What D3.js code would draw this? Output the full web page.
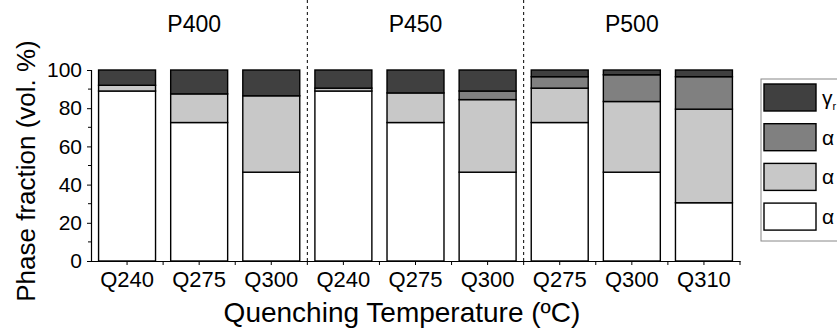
<!DOCTYPE html>
<html>
<head>
<meta charset="utf-8">
<script src="https://cdn.jsdelivr.net/npm/d3@7"></script>
<style>
  html, body { margin: 0; padding: 0; background: #fff; }
  svg { display: block; font-family: "Liberation Sans", Arial, sans-serif; }
</style>
</head>
<body>
<svg id="chart" width="837" height="336"></svg>
<script>
// Quenching temperatures, grouped by partitioning condition
const groups = ["P400", "P450", "P500"];
const categories = ["Q240", "Q275", "Q300", "Q240", "Q275", "Q300", "Q275", "Q300", "Q310"];

// Phase fractions (vol. %), bottom to top
const alphaWhite  = [89, 72.5, 46.5, 89, 72.5, 46.5, 72.5, 46.5, 30.5];
const alphaLight  = [3, 15, 40, 1.5, 15.5, 38, 18, 37, 49];
const alphaMedium = [0, 0, 0, 0, 0, 4.5, 6, 14, 17];
const gammaR      = [8, 12.5, 13.5, 9.5, 12, 11, 3.5, 2.5, 3.5];

const yTicks = [0, 20, 40, 60, 80, 100];
const yMinorTicks = [10, 30, 50, 70, 90];

const seriesKeys = ["aw", "al", "am", "gr"];
const colors = { aw: "#ffffff", al: "#c8c8c8", am: "#808080", gr: "#404040" };
const legendItems = [
  { key: "gr", label: "γ", sub: "r" },
  { key: "am", label: "α", sub: "" },
  { key: "al", label: "α", sub: "" },
  { key: "aw", label: "α", sub: "" }
];

const rows = categories.map((c, i) => ({
  idx: i, cat: c,
  aw: alphaWhite[i], al: alphaLight[i], am: alphaMedium[i], gr: gammaR[i]
}));

const svg = d3.select("#chart");
const margin = { left: 91, right: 97, top: 70, bottom: 75 };
const W = 837, H = 336;

const x = d3.scaleBand()
  .domain(rows.map(d => d.idx))
  .range([margin.left, W - margin.right])
  .paddingInner(0.21).paddingOuter(0.105);
const xOuter = d3.scaleBand()
  .domain(rows.map(d => d.idx))
  .range([margin.left, W - margin.right]);
const y = d3.scaleLinear().domain([0, 100]).range([H - margin.bottom, margin.top]);

// group separators
const groupBounds = [3, 6];
svg.selectAll("line.sep").data(groupBounds).join("line")
  .attr("class", "sep")
  .attr("x1", d => xOuter(d)).attr("x2", d => xOuter(d))
  .attr("y1", 0).attr("y2", y(0))
  .attr("stroke", "#000").attr("stroke-width", 1)
  .attr("stroke-dasharray", "3,3");

// group titles
svg.selectAll("text.grp").data(groups).join("text")
  .attr("class", "grp")
  .attr("x", (d, g) => (xOuter(g * 3) + xOuter(g * 3 + 2) + xOuter.bandwidth()) / 2 - (g === 0 ? 5 : 0))
  .attr("y", 32)
  .attr("text-anchor", "middle")
  .attr("font-size", 23)
  .text(d => d);

// stacked bars
const stack = d3.stack().keys(seriesKeys);
const layers = stack(rows);
svg.append("g").selectAll("g").data(layers).join("g")
  .attr("fill", d => colors[d.key])
  .selectAll("rect").data(d => d.filter(p => p[1] - p[0] > 0)).join("rect")
  .attr("x", d => x(d.data.idx))
  .attr("width", x.bandwidth())
  .attr("y", d => y(d[1]))
  .attr("height", d => y(d[0]) - y(d[1]))
  .attr("stroke", "#000")
  .attr("stroke-width", 1.4);

// y axis
const yAxis = d3.axisLeft(y).tickValues(yTicks).tickSize(4).tickPadding(5).tickFormat(d3.format("d"));
const gy = svg.append("g").attr("transform", `translate(${margin.left},0)`).call(yAxis);
gy.selectAll(".tick text").attr("font-size", 21).attr("font-family", "Liberation Sans, Arial, sans-serif").attr("fill", "#000");
gy.select(".domain").attr("stroke-width", 1.2);
gy.selectAll("line.minor").data(yMinorTicks).join("line")
  .attr("class", "minor")
  .attr("x1", -3).attr("x2", 0)
  .attr("y1", d => y(d)).attr("y2", d => y(d))
  .attr("stroke", "#000");

// x axis
const xAxis = d3.axisBottom(xOuter).tickFormat(i => categories[i]).tickSize(4).tickPadding(6).tickSizeOuter(0);
const gx = svg.append("g").attr("transform", `translate(0,${y(0)})`).call(xAxis);
gx.selectAll(".tick text").attr("font-size", 22).attr("font-family", "Liberation Sans, Arial, sans-serif").attr("fill", "#000");
gx.select(".domain").attr("stroke-width", 1.2);
gx.selectAll("line.bnd").data(d3.range(1, categories.length + 1)).join("line")
  .attr("class", "bnd")
  .attr("x1", d => xOuter(d - 1) + xOuter.bandwidth())
  .attr("x2", d => xOuter(d - 1) + xOuter.bandwidth())
  .attr("y1", 0).attr("y2", 4)
  .attr("stroke", "#000");

// axis titles
svg.append("text")
  .attr("x", 402)
  .attr("y", 322)
  .attr("text-anchor", "middle")
  .attr("font-size", 28)
  .text("Quenching Temperature (ºC)");
svg.append("text")
  .attr("transform", `translate(35,171) rotate(-90)`)
  .attr("text-anchor", "middle")
  .attr("font-size", 26)
  .text("Phase fraction (vol. %)");

// legend
const lg = svg.append("g");
lg.append("rect")
  .attr("x", 761).attr("y", 79).attr("width", 120).attr("height", 162)
  .attr("fill", "#fff").attr("stroke", "#888").attr("stroke-width", 1);
const li = lg.selectAll("g.item").data(legendItems).join("g")
  .attr("transform", (d, i) => `translate(764,${84 + i * 39.7})`);
li.append("rect")
  .attr("width", 52).attr("height", 27)
  .attr("fill", d => colors[d.key])
  .attr("stroke", "#000").attr("stroke-width", 1.4);
const lt = li.append("text")
  .attr("x", 58).attr("y", 21)
  .attr("font-size", 21);
lt.append("tspan").text(d => d.label);
lt.append("tspan").attr("font-size", 11).attr("dy", 5).text(d => d.sub);
</script>
</body>
</html>
